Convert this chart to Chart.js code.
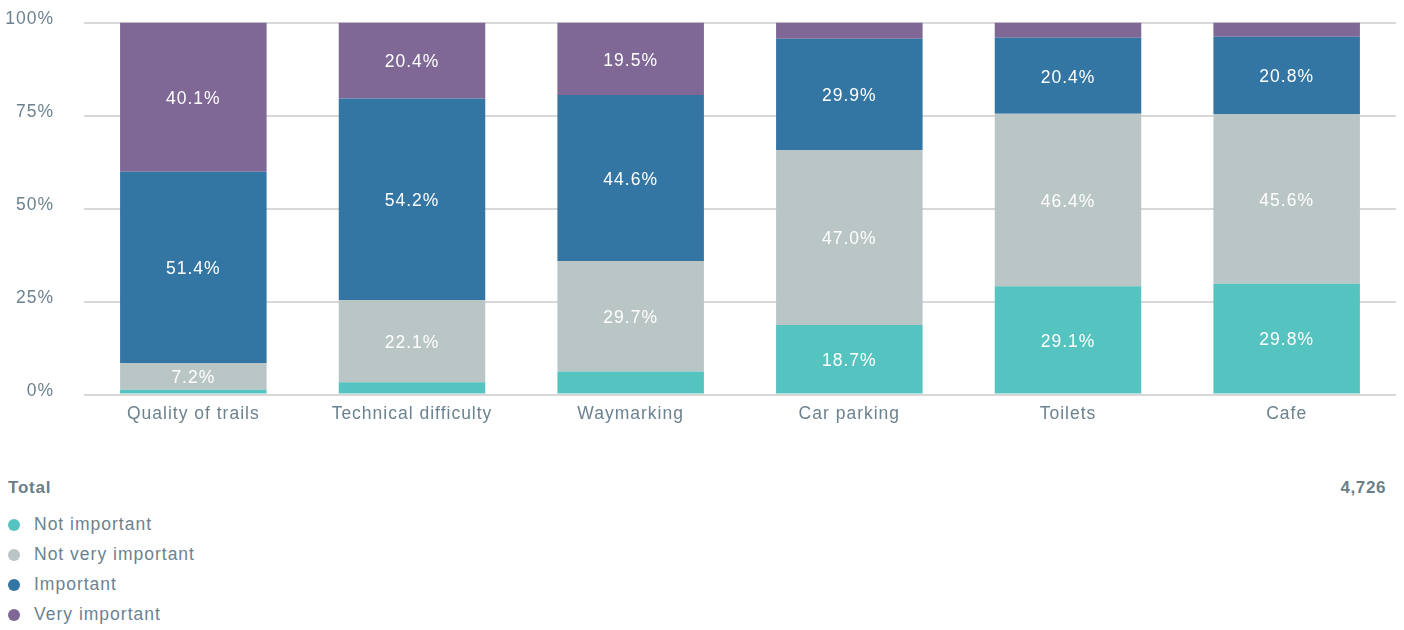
<!DOCTYPE html>
<html>
<head>
<meta charset="utf-8">
<script src="https://cdn.jsdelivr.net/npm/chart.js@4.4.1/dist/chart.umd.min.js"></script>
<style>
  body { margin: 0; background: #fff; font-family: "Liberation Sans", Arial, sans-serif; letter-spacing: 1px; overflow: hidden; }
  #wrap { position: absolute; top: -18px; left: 0; width: 1404px; height: 453px; }
  #total { position: absolute; top: 478px; left: 8px; width: 1378px; font-weight: bold; font-size: 17px; color: #6b7f89; letter-spacing: 0.8px; }
  #total span { float: right; letter-spacing: 0.6px; }
  #legend { position: absolute; top: 512px; left: 8px; }
  .item { height: 30px; line-height: 24px; font-size: 17.5px; color: #6b8290; }
  .dot { display: inline-block; width: 12px; height: 12px; border-radius: 50%; margin-right: 14px; vertical-align: -1px; }
</style>
</head>
<body>
<div id="wrap"><canvas id="surveyChart"></canvas></div>
<div id="total">Total<span>4,726</span></div>
<div id="legend"></div>
<script>
const categories = ['Quality of trails', 'Technical difficulty', 'Waymarking', 'Car parking', 'Toilets', 'Cafe'];
const seriesNames = ['Not important', 'Not very important', 'Important', 'Very important'];
const seriesColors = ['#55c3bf', '#bac5c6', '#3375a3', '#7f6895'];

const notImportant = [1.3, 3.3, 6.2, 18.7, 29.1, 29.8];
const notVeryImportant = [7.2, 22.1, 29.7, 47.0, 46.4, 45.6];
const important = [51.4, 54.2, 44.6, 29.9, 20.4, 20.8];
const veryImportant = [40.1, 20.4, 19.5, 4.4, 4.1, 3.8];

const yTicks = [0, 25, 50, 75, 100];

const seriesValues = [notImportant, notVeryImportant, important, veryImportant];
const FONT = '"Liberation Sans", Arial, sans-serif';

// slightly spaced lettering for every canvas text
const spacing = {
    id: 'spacing',
    beforeDraw(chart) { chart.ctx.letterSpacing = '1px'; }
};

// write the percentage in the middle of each segment big enough to hold it
const segmentLabels = {
    id: 'segmentLabels',
    afterDatasetsDraw(chart) {
        const ctx = chart.ctx;
        ctx.save();
        ctx.font = '17.5px ' + FONT;
        ctx.letterSpacing = '1px';
        ctx.fillStyle = '#ffffff';
        ctx.textAlign = 'center';
        ctx.textBaseline = 'middle';
        chart.data.datasets.forEach((ds, i) => {
            chart.getDatasetMeta(i).data.forEach((bar, j) => {
                const v = ds.data[j];
                if (v < 7) return;
                const mid = (bar.y + bar.base) / 2;
                ctx.fillText(v.toFixed(1) + '%', bar.x, mid + 2);
            });
        });
        ctx.restore();
    }
};

const ctx = document.getElementById('surveyChart').getContext('2d');
new Chart(ctx, {
    type: 'bar',
    data: {
        labels: categories,
        datasets: seriesNames.map((name, i) => ({
            label: name,
            data: seriesValues[i],
            backgroundColor: seriesColors[i],
            borderWidth: 0,
            barPercentage: 0.67,
            categoryPercentage: 1
        }))
    },
    options: {
        responsive: true,
        maintainAspectRatio: false,
        animation: false,
        layout: { padding: { top: 13, right: 8, left: 0, bottom: 0 } },
        plugins: {
            legend: { display: false },
            tooltip: { enabled: false }
        },
        scales: {
            x: {
                stacked: true,
                grid: { display: false, drawTicks: false },
                border: { display: false },
                ticks: {
                    color: '#6b8290',
                    padding: 9,
                    font: { size: 17.5, family: FONT }
                }
            },
            y: {
                stacked: true,
                min: 0,
                max: 100,
                afterBuildTicks(axis) {
                    axis.ticks = yTicks.map(v => ({ value: v }));
                },
                afterFit(axis) { axis.width = 84; },
                grid: { color: '#d8d8d8', lineWidth: 2, drawTicks: false },
                border: { display: false },
                ticks: {
                    color: '#6b8290',
                    padding: 30,
                    labelOffset: -3,
                    font: { size: 17.5, family: FONT },
                    callback: v => v + '%'
                }
            }
        }
    },
    plugins: [spacing, segmentLabels]
});

const legend = document.getElementById('legend');
seriesNames.forEach((name, i) => {
    const row = document.createElement('div');
    row.className = 'item';
    row.innerHTML = `<span class="dot" style="background:${seriesColors[i]}"></span>${name}`;
    legend.appendChild(row);
});
</script>
</body>
</html>
